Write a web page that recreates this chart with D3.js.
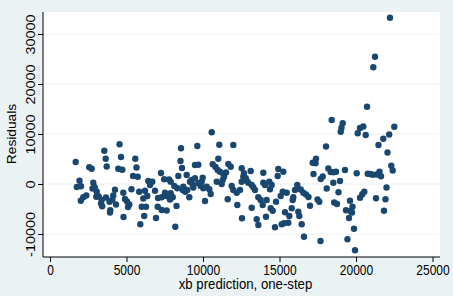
<!DOCTYPE html>
<html>
<head>
  <script src="https://cdn.jsdelivr.net/npm/d3@7/dist/d3.min.js"></script>
  <style>
    body { margin: 0; }
    text { font-family: "Liberation Sans", Arial, sans-serif; fill: #000; }
  </style>
</head>
<body>
  <svg width="453" height="296" id="mainsvg"></svg>
  <script>
    // xb prediction (one-step) and residuals
    const xbPred = [1680, 2569, 2726, 3549, 3641, 3706, 4543, 4641, 4464, 4726,
      1928, 1752, 2026, 2830, 2778, 2922, 2176, 2373, 2013, 3026,
      3052, 3183, 3379, 3333, 3412, 3660, 3889, 3941, 3922, 4248,
      4137, 4072, 4314, 4791, 4902, 5033, 5183, 5098, 4804, 5575,
      5654, 5425, 5732, 5327, 5830, 6209, 6098, 6360, 5994, 6275,
      6157, 5902, 6425, 6686, 6536, 6863, 7255, 7464, 7778, 7889,
      7059, 7301, 7516, 7628, 7889, 8020, 7843, 7039, 7301, 7628,
      6928, 8190, 8562, 8529, 8628, 8386, 8124, 8320, 8712, 8673,
      8268, 10569, 9628, 11065, 11980, 9477, 9693, 10634, 10817, 10961,
      11000, 11654, 11811, 11111, 11327, 11503, 8935, 9262, 9477, 9980,
      9915, 9150, 9327, 9366, 9693, 9850, 10020, 10242, 10412, 10896,
      11288, 11373, 11222, 8974, 8843, 9105, 10503, 10131, 11876, 11980,
      12203, 11614, 12242, 12529, 12634, 12529, 12549, 12680, 13118, 13941,
      14922, 15249, 14883, 12791, 12856, 12961, 13183, 13288, 13399, 13941,
      14052, 14333, 14490, 14379, 12418, 13615, 13771, 13902, 14163, 13183,
      14771, 14425, 14556, 15079, 15209, 15471, 16164, 16013, 15902, 15863,
      15360, 15641, 15798, 13510, 13615, 14118, 14706, 15144, 15294, 15575,
      16229, 16294, 16451, 16601, 18412, 19131, 19052, 19000, 20478, 20262,
      20111, 20634, 18039, 17386, 17170, 17353, 18190, 18346, 18530, 18693,
      19281, 20046, 17222, 17824, 17693, 18954, 18517, 18085, 18856, 16386,
      16556, 16732, 16896, 17484, 17601, 16994, 18575, 18758, 19608, 19347,
      19628, 19771, 19739, 19543, 19869, 17680, 19444, 19935, 20543, 20412,
      20262, 22222, 21242, 21131, 20720, 22503, 22170, 21784, 21471, 22059,
      22307, 22399, 20765, 20935, 21098, 21353, 21536, 21634, 21994, 21307,
      21928, 21830];
    const residuals = [4400, 3340, 3060, 6660, 5060, 3500, 7940, 5400, 3060, 2840,
      660, -600, -460, 260, -900, -660, -2660, -2300, -3340, -2540,
      -1500, -2500, -3200, -3900, -4460, -2700, -3540, -5260, -5700, -1140,
      -2300, -3140, -4100, -1740, -3000, -3500, -4100, -4600, -6600, 5060,
      3300, 1600, 1460, -1040, -1540, -1340, -2900, -2400, -4540, -4540,
      -6400, -8040, 600, 460, -200, -1340, 2200, 960, 900, 460,
      -2800, -2660, -1740, -2400, -1860, -2660, -3100, -4540, -5200, -5300,
      -6800, -8540, 7140, 4600, 3200, 1600, -400, -860, -540, -1200,
      -4400, 10340, 7600, 7860, 7800, 3800, 3860, 3940, 3400, 2800,
      5060, 4000, 3460, 2460, 2000, 2300, 1800, 800, 1140, 1260,
      460, 460, -200, -700, 140, -400, -860, -540, -1060, 460,
      800, 1460, 0, -1200, -1540, -2660, -2000, -3400, -400, -1200,
      -1740, -3060, -4200, 3140, 1460, 460, -6860, 2140, 2600, 2260,
      3000, 2460, 1600, 1140, 660, 260, -200, -660, -1200, 260,
      -200, 460, -200, -1060, -1200, -2660, -3200, -4200, -3200, -4740,
      -3540, -4860, -5340, -2400, -1540, -1740, -200, -1200, -2660, -3200,
      -5660, -6400, -4860, -7060, -8200, -6540, -8660, -8060, -7860, -7740,
      -5540, -6400, -8060, -10540, 12800, 12140, 11240, 10460, 11500, 11200,
      10140, 9800, 7500, 5060, 4260, 4140, 3100, 2400, 2360, 2460,
      2800, 2140, 2000, 1500, 1000, 600, 260, -900, -1660, -1100,
      -1740, -2100, -2600, -3100, -3540, -4340, -3700, -4000, -3360, -5260,
      -5400, -4540, -5700, -6800, -8940, -11400, -11060, -13260, -1540, -2060,
      -2740, 33260, 25460, 23340, 15460, 11440, 9900, 9060, 7800, 6300,
      3660, 2700, 2060, 2000, 1840, 1900, 2460, 1540, -700, -2860,
      -3060, -5340];
    const xTicks = [0, 5000, 10000, 15000, 20000, 25000];
    const yTicks = [-10000, 0, 10000, 20000, 30000];
    const xTitle = 'xb prediction, one-step';
    const yTitle = 'Residuals';

    const svg = d3.select('svg');
    const width = +svg.attr('width');
    const height = +svg.attr('height');
    const plot = { left: 43, right: 440, top: 12, bottom: 257 };
    const bg = '#eaf2f3';
    const navy = '#1a476f';
    const stretch = 1.2; // text in the picture is a bit taller than wide

    const x = d3.scaleLinear().domain([0, 25000]).range([50, 432.5]);
    const y = d3.scaleLinear().domain([-10000, 30000]).range([234, 34]);

    svg.append('rect').attr('width', width).attr('height', height).attr('fill', bg);
    svg.append('rect')
      .attr('x', plot.left).attr('y', plot.top)
      .attr('width', plot.right - plot.left).attr('height', plot.bottom - plot.top)
      .attr('fill', '#fff');

    // grid
    svg.append('g').selectAll('line')
      .data(yTicks)
      .join('line')
      .attr('x1', plot.left).attr('x2', plot.right)
      .attr('y1', d => y(d)).attr('y2', d => y(d))
      .attr('stroke', bg).attr('stroke-width', 1.2);

    // points
    svg.append('g').selectAll('circle')
      .data(xbPred.map((d, i) => [d, residuals[i]]))
      .join('circle')
      .attr('cx', d => x(d[0]))
      .attr('cy', d => y(d[1]))
      .attr('r', 3.2)
      .attr('fill', navy);

    // axes
    const xAxis = svg.append('g')
      .attr('transform', `translate(0, ${plot.bottom})`)
      .call(d3.axisBottom(x).tickValues(xTicks).tickSize(5).tickSizeOuter(0).tickFormat(d => String(d)));
    xAxis.select('.domain').remove();
    xAxis.selectAll('.tick text')
      .attr('y', null).attr('dy', null)
      .attr('font-size', 12)
      .attr('transform', `translate(0, 17.5) scale(1, ${stretch})`);

    const yAxis = svg.append('g')
      .attr('transform', `translate(${plot.left}, 0)`)
      .call(d3.axisLeft(y).tickValues(yTicks).tickSize(5).tickSizeOuter(0).tickFormat(d => String(d)));
    yAxis.select('.domain').remove();
    yAxis.selectAll('.tick text')
      .attr('x', null).attr('dy', null)
      .attr('font-size', 12)
      .attr('text-anchor', 'middle')
      .attr('transform', `translate(-8.5, 0) scale(1, ${stretch}) rotate(-90)`);
    svg.selectAll('.tick line').attr('stroke', '#000');

    svg.append('line')
      .attr('x1', plot.left).attr('x2', plot.left)
      .attr('y1', plot.top).attr('y2', plot.bottom)
      .attr('stroke', '#000');
    svg.append('line')
      .attr('x1', plot.left).attr('x2', plot.right)
      .attr('y1', plot.bottom).attr('y2', plot.bottom)
      .attr('stroke', '#000');

    // titles
    svg.append('text')
      .attr('text-anchor', 'middle')
      .attr('font-size', 13.2)
      .attr('transform', `translate(245.5, 288.5) scale(1, 1.15)`)
      .text(xTitle);
    svg.append('text')
      .attr('text-anchor', 'middle')
      .attr('font-size', 12.5)
      .attr('transform', `translate(15.5, 134) scale(1, 1.1) rotate(-90)`)
      .text(yTitle);
  </script>
</body>
</html>
